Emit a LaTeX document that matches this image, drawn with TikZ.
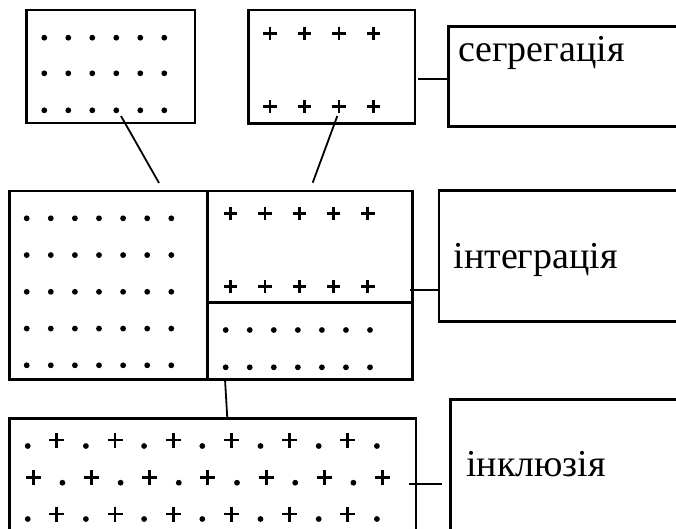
\documentclass[tikz,border=0pt]{standalone}
\usepackage{fontspec}
\setmainfont{Liberation Serif}
\tikzset{
  box/.style={draw, line width=2.6pt, inner sep=0pt, outer sep=0pt, anchor=north west},
  link/.style={line width=1.8pt},
  dotmark/.style={fill=black},
  plusmark/.style={line width=2.9pt},
  word/.style={anchor=base west, inner sep=0pt, font=\fontsize{38}{42}\selectfont}
}
% filled dot and plus sign used as pattern marks
\newcommand\pdot[2]{\fill[dotmark] (#1,#2) circle (2.9);}
\newcommand\pplus[3]{\draw[plusmark] (#1-#3,#2) -- (#1+#3,#2) (#1,#2-#3) -- (#1,#2+#3);}
\begin{document}
\begin{tikzpicture}[x=1pt,y=-1pt]
\useasboundingbox (0,0) rectangle (676,528);
\clip (0,0) rectangle (676,528);

% upper boxes
\node[box, minimum width=168.3pt, minimum height=113pt] (dots) at (26.7,10) {};
\node[box, minimum width=166.7pt, minimum height=113.3pt] (plus) at (248.3,10) {};
\node[box, minimum width=260pt, minimum height=100pt] (seg) at (448.3,26.7) {};

% combined box
\node[box, minimum width=198.4pt, minimum height=188.3pt] (mleft) at (9.3,191) {};
\node[box, minimum width=204.6pt, minimum height=111.7pt] (mtop) at (207.7,191) {};
\node[box, minimum width=204.6pt, minimum height=76.6pt] (mbot) at (207.7,302.7) {};
\node[box, minimum width=260pt, minimum height=131.2pt] (integ) at (439,190.5) {};

% mixed box
\node[box, minimum width=406.7pt, minimum height=130pt] (mix) at (9.3,418.3) {};
\node[box, minimum width=260pt, minimum height=150pt] (inkl) at (450.7,399.3) {};

% labels
\node[word] (tseg) at (458,61) {сегрегація};
\node[word] (tint) at (453.3,268.3) {інтеграція};
\node[word] (tink) at (466,476) {інклюзія};

% marks in the upper boxes
\foreach \r in {37.7,73.3,110.3}
  \foreach \k in {0,...,5} { \pdot{44.3+24*\k}{\r} }
\foreach \r in {33.3,106.7}
  \foreach \xx in {270,304.5,339,373.5} { \pplus{\xx}{\r}{6.7} }

% marks in the combined box
\foreach \j in {0,...,4}
  \foreach \k in {0,...,6} { \pdot{26.7+24.1*\k}{218.3+36.75*\j} }
\foreach \r in {213.3,286.7}
  \foreach \k in {0,...,4} { \pplus{230.7+34.3*\k}{\r}{6.7} }
\foreach \r in {330,367.3}
  \foreach \k in {0,...,6} { \pdot{225.7+24.05*\k}{\r} }

% marks in the mixed box
\foreach \j in {0,...,12} {
  \ifodd\j
    \pplus{27.7+29.1*\j}{440}{7.5}
    \pdot{33.3+29.1*\j}{482.7}
    \pplus{27.7+29.1*\j}{514}{7.5}
  \else
    \pdot{27.7+29.1*\j}{446}
    \pplus{33.3+29.1*\j}{477.3}{7.5}
    \pdot{27.7+29.1*\j}{519}
  \fi
}

% connectors
\coordinate (a1) at (121,116);
\coordinate (a2) at (159,183);
\coordinate (b1) at (337.3,116);
\coordinate (b2) at (312.7,182.7);
\coordinate (c1) at (417.7,79);
\coordinate (d1) at (410,290);
\coordinate (e1) at (225,379.3);
\coordinate (e2) at (227.3,418.3);
\coordinate (f1) at (409,484.3);
\coordinate (f2) at (442,484.3);
\draw[link] (a1) -- (a2);
\draw[link] (b1) -- (b2);
\draw[link] (c1) -- (c1 -| seg.west);
\draw[link] (d1) -- (d1 -| integ.west);
\draw[link] (e1) -- (e2);
\draw[link] (f1) -- (f2);
\end{tikzpicture}
\end{document}
